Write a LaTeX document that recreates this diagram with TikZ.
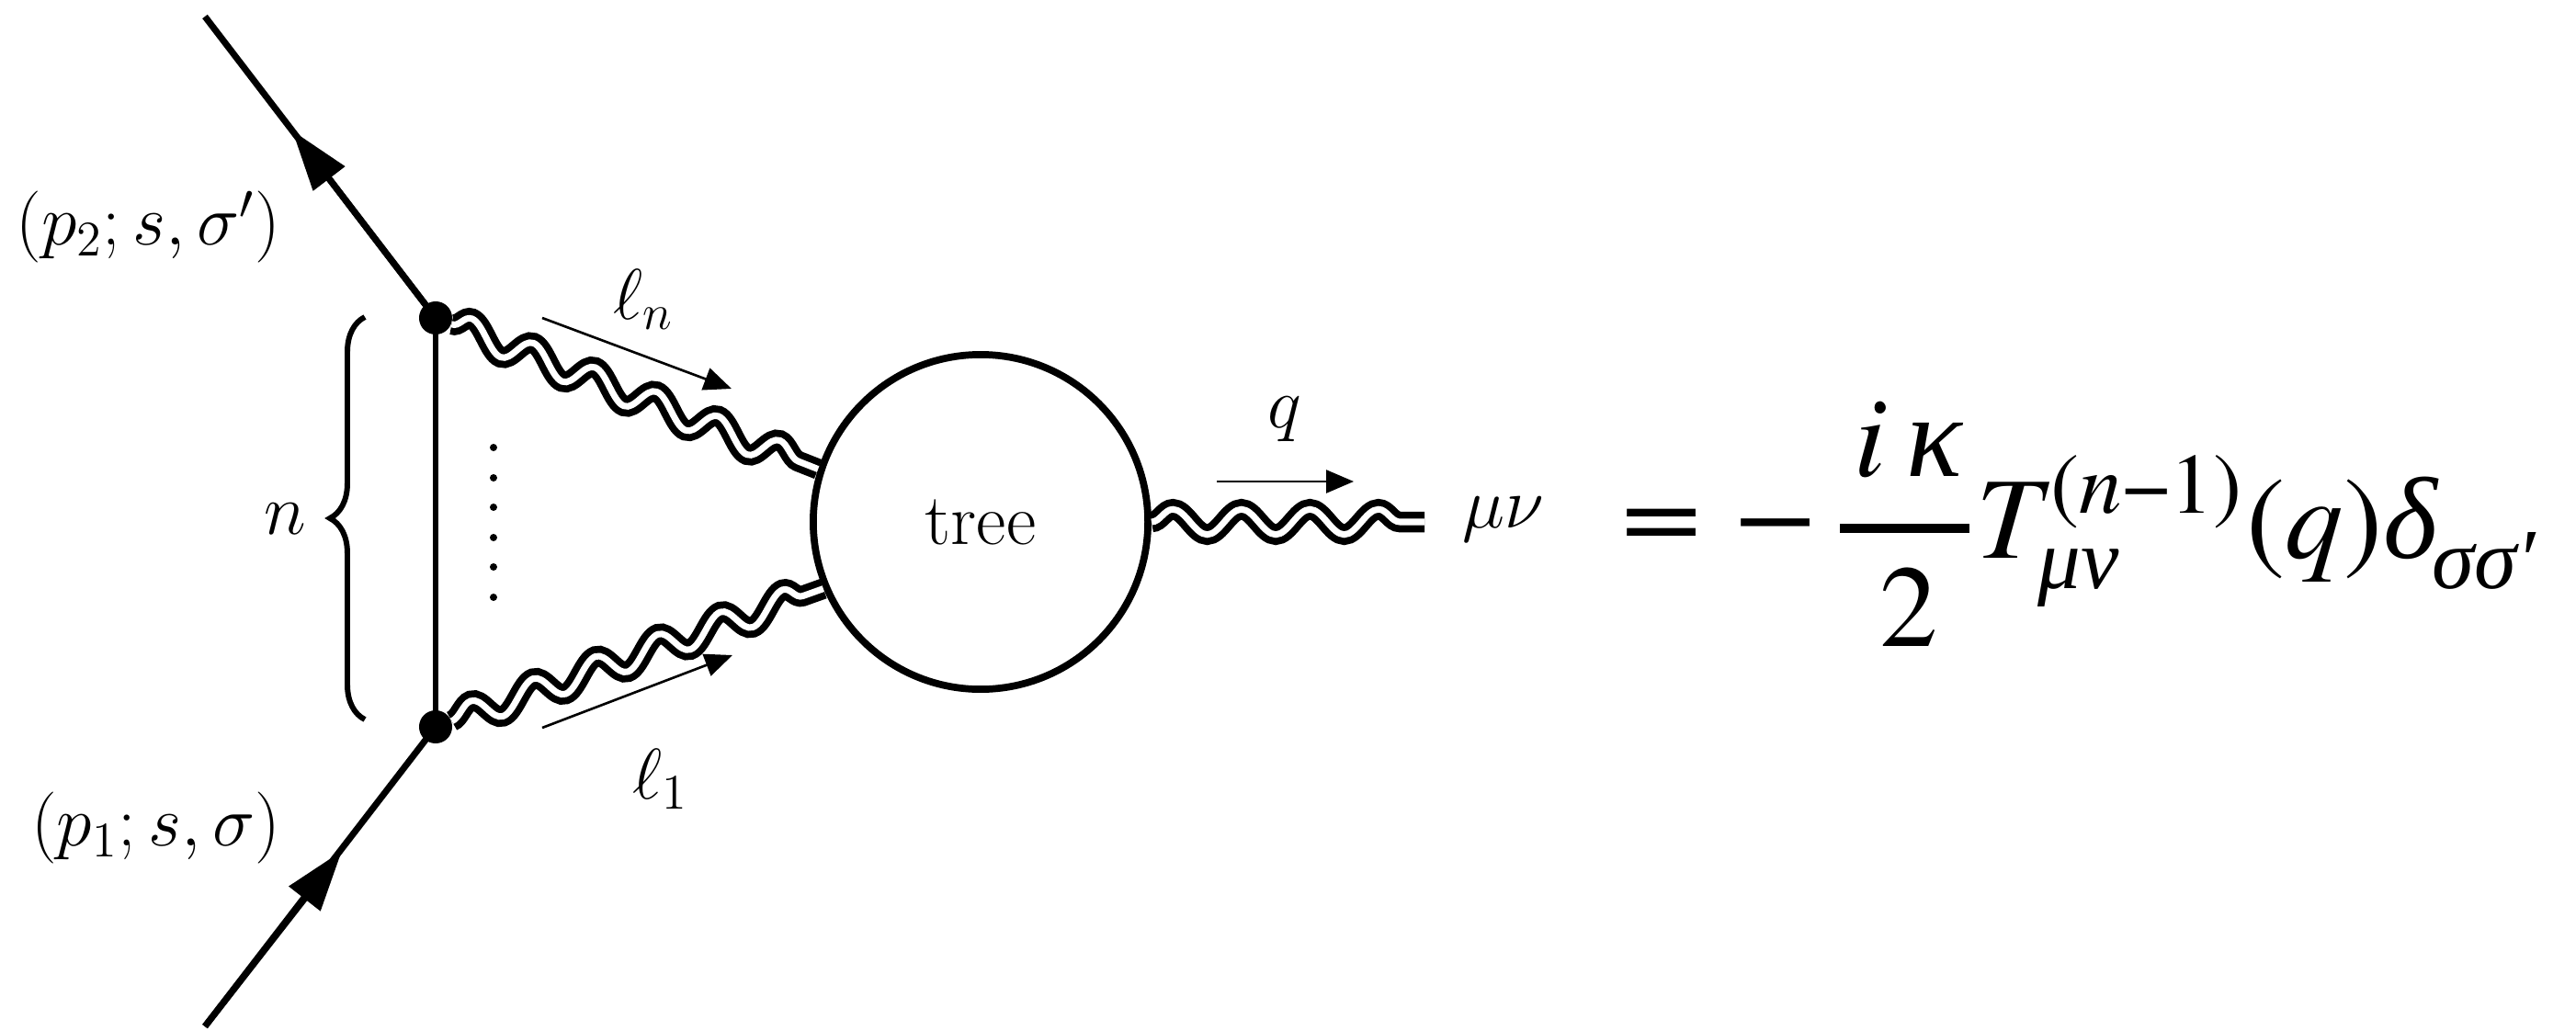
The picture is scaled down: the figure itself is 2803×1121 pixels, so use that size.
\documentclass[tikz,border=0pt]{standalone}
\usepackage{fontspec}
\usetikzlibrary{shapes,positioning,arrows.meta,decorations.pathmorphing,decorations.pathreplacing}
\newfontfamily\eqfont{TeX Gyre Termes}
\newfontfamily\grfont{Liberation Serif}

\begin{document}
\begin{tikzpicture}[
        x=0.01cm, y=-0.01cm,
        vertex/.style={circle, fill=black, draw=none, minimum size=0.36cm, inner sep=0pt},
        blob/.style={circle, draw=black, line width=2.2pt, fill=white, minimum size=3.64cm, inner sep=0pt, font=\fontsize{22.5}{27}\selectfont},
        dotpt/.style={circle, fill=black, draw=none, minimum size=0.08cm, inner sep=0pt},
        fermion/.style={line width=2pt},
        graviton/.style={line width=2.2pt, double=white, double distance=2pt, decorate, decoration={snake, segment length=20.5pt, amplitude=3.9pt}},
        momentum/.style={line width=0.75pt, -{Triangle[length=0.3cm, width=0.25cm]}},
        lab/.style={font=\huge, inner sep=0pt, scale=1.07, transform shape},
        eqbig/.style={font=\eqfont\fontsize{36}{36}\selectfont, inner sep=0pt, anchor=base west},
        eqsmall/.style={font=\eqfont\fontsize{26.5}{26.5}\selectfont, inner sep=0pt, anchor=base west}
    ]
        \useasboundingbox (0, 0) rectangle (2803, 1121);

        % Equation
        \node[eqbig] (eq) at (1764, 600) {\scalebox{1.22}[1]{=}};
        \node[eqbig] (minus) at (1888, 600) {\scalebox{1.22}[1]{−}};
        \coordinate (bar0) at (2002, 575);
        \coordinate (bar1) at (2143, 575);
        \draw[line width=2.6pt] (bar0) -- (bar1);
        \node[eqbig] (num) at (2017, 518) {\itshape i\,{\grfont κ}};
        \node[eqbig] (den) at (2045, 703) {2};
        \node[eqbig] (T) at (2150, 607) {\itshape T};
        \node[eqsmall] (sup) at (2231, 558) {(\textit{n}−1)};
        \node[eqsmall] (sub) at (2217, 640) {\grfont\itshape μν};
        \node[eqbig] (arg) at (2444, 607) {(\textit{q})};
        \node[eqbig] (delta) at (2593, 607) {\grfont\itshape δ};
        \node[eqsmall] (subd) at (2646, 640) {\grfont\itshape σσ′};

        % Vertices
        \node[vertex] (v2) at (474, 346) {};
        \node[vertex] (v1) at (474, 791) {};
        \node[blob] (tree) at (1067, 568) {tree};

        % Outer lines
        \coordinate (p2) at (223, 18);
        \coordinate (p1) at (223, 1117);
        \coordinate (tip2) at (318, 142);
        \coordinate (tip1) at (372, 926);
        \draw[fermion] (v2.center) -- (p2);
        \draw[fermion] (v1.center) -- (p1);
        \draw[fermion, -{Triangle[length=0.66cm, width=0.42cm]}] (v2.center) -- (tip2);
        \draw[fermion, -{Triangle[length=0.66cm, width=0.42cm]}] (p1) -- (tip1);
        \draw[line width=1.8pt] (v1.center) -- (v2.center);

        % Wavy lines
        \coordinate (qend) at (1550, 568);
        \draw[graviton, decoration={transform={xslant=-0.3}}] (v2) -- (tree.162);
        \draw[graviton, decoration={transform={xslant=0.3}}] (v1) -- (tree.203);
        \draw[graviton, decoration={segment length=21.2pt}] (tree.east) -- (qend);

        % Momentum arrows
        \coordinate (ln0) at (590, 346);
        \coordinate (ln1) at (796, 423);
        \coordinate (l10) at (590, 792);
        \coordinate (l11) at (797, 713);
        \coordinate (q0) at (1324, 524);
        \coordinate (q1) at (1473, 524);
        \draw[momentum] (ln0) -- (ln1);
        \draw[momentum] (l10) -- (l11);
        \draw[momentum] (q0) -- (q1);

        % Dots and brace
        \node[dotpt] (d1) at (537, 487) {};
        \node[dotpt] (d2) at (537, 520) {};
        \node[dotpt] (d3) at (537, 552) {};
        \node[dotpt] (d4) at (537, 585) {};
        \node[dotpt] (d5) at (537, 617) {};
        \node[dotpt] (d6) at (537, 650) {};
        \coordinate (br1) at (397, 783);
        \coordinate (br2) at (397, 345);
        \draw[line width=1.7pt, decorate, decoration={brace, amplitude=0.38cm}] (br1) -- (br2);

        % Labels
        \node[lab, anchor=east] (lp2) at (306, 247) {$(p_2;s,\sigma')$};
        \node[lab, anchor=east] (lp1) at (306, 901) {$(p_1;s,\sigma)$};
        \node[lab] (lln) at (700, 326) {$\ell_n$};
        \node[lab] (ll1) at (719, 848) {$\ell_1$};
        \node[lab] (lq) at (1398, 456) {$q$};
        \node[lab] (lmn) at (1636, 565) {$\mu\nu$};
        \node[lab] (ln) at (310, 565) {$n$};
    \end{tikzpicture}
\end{document}
